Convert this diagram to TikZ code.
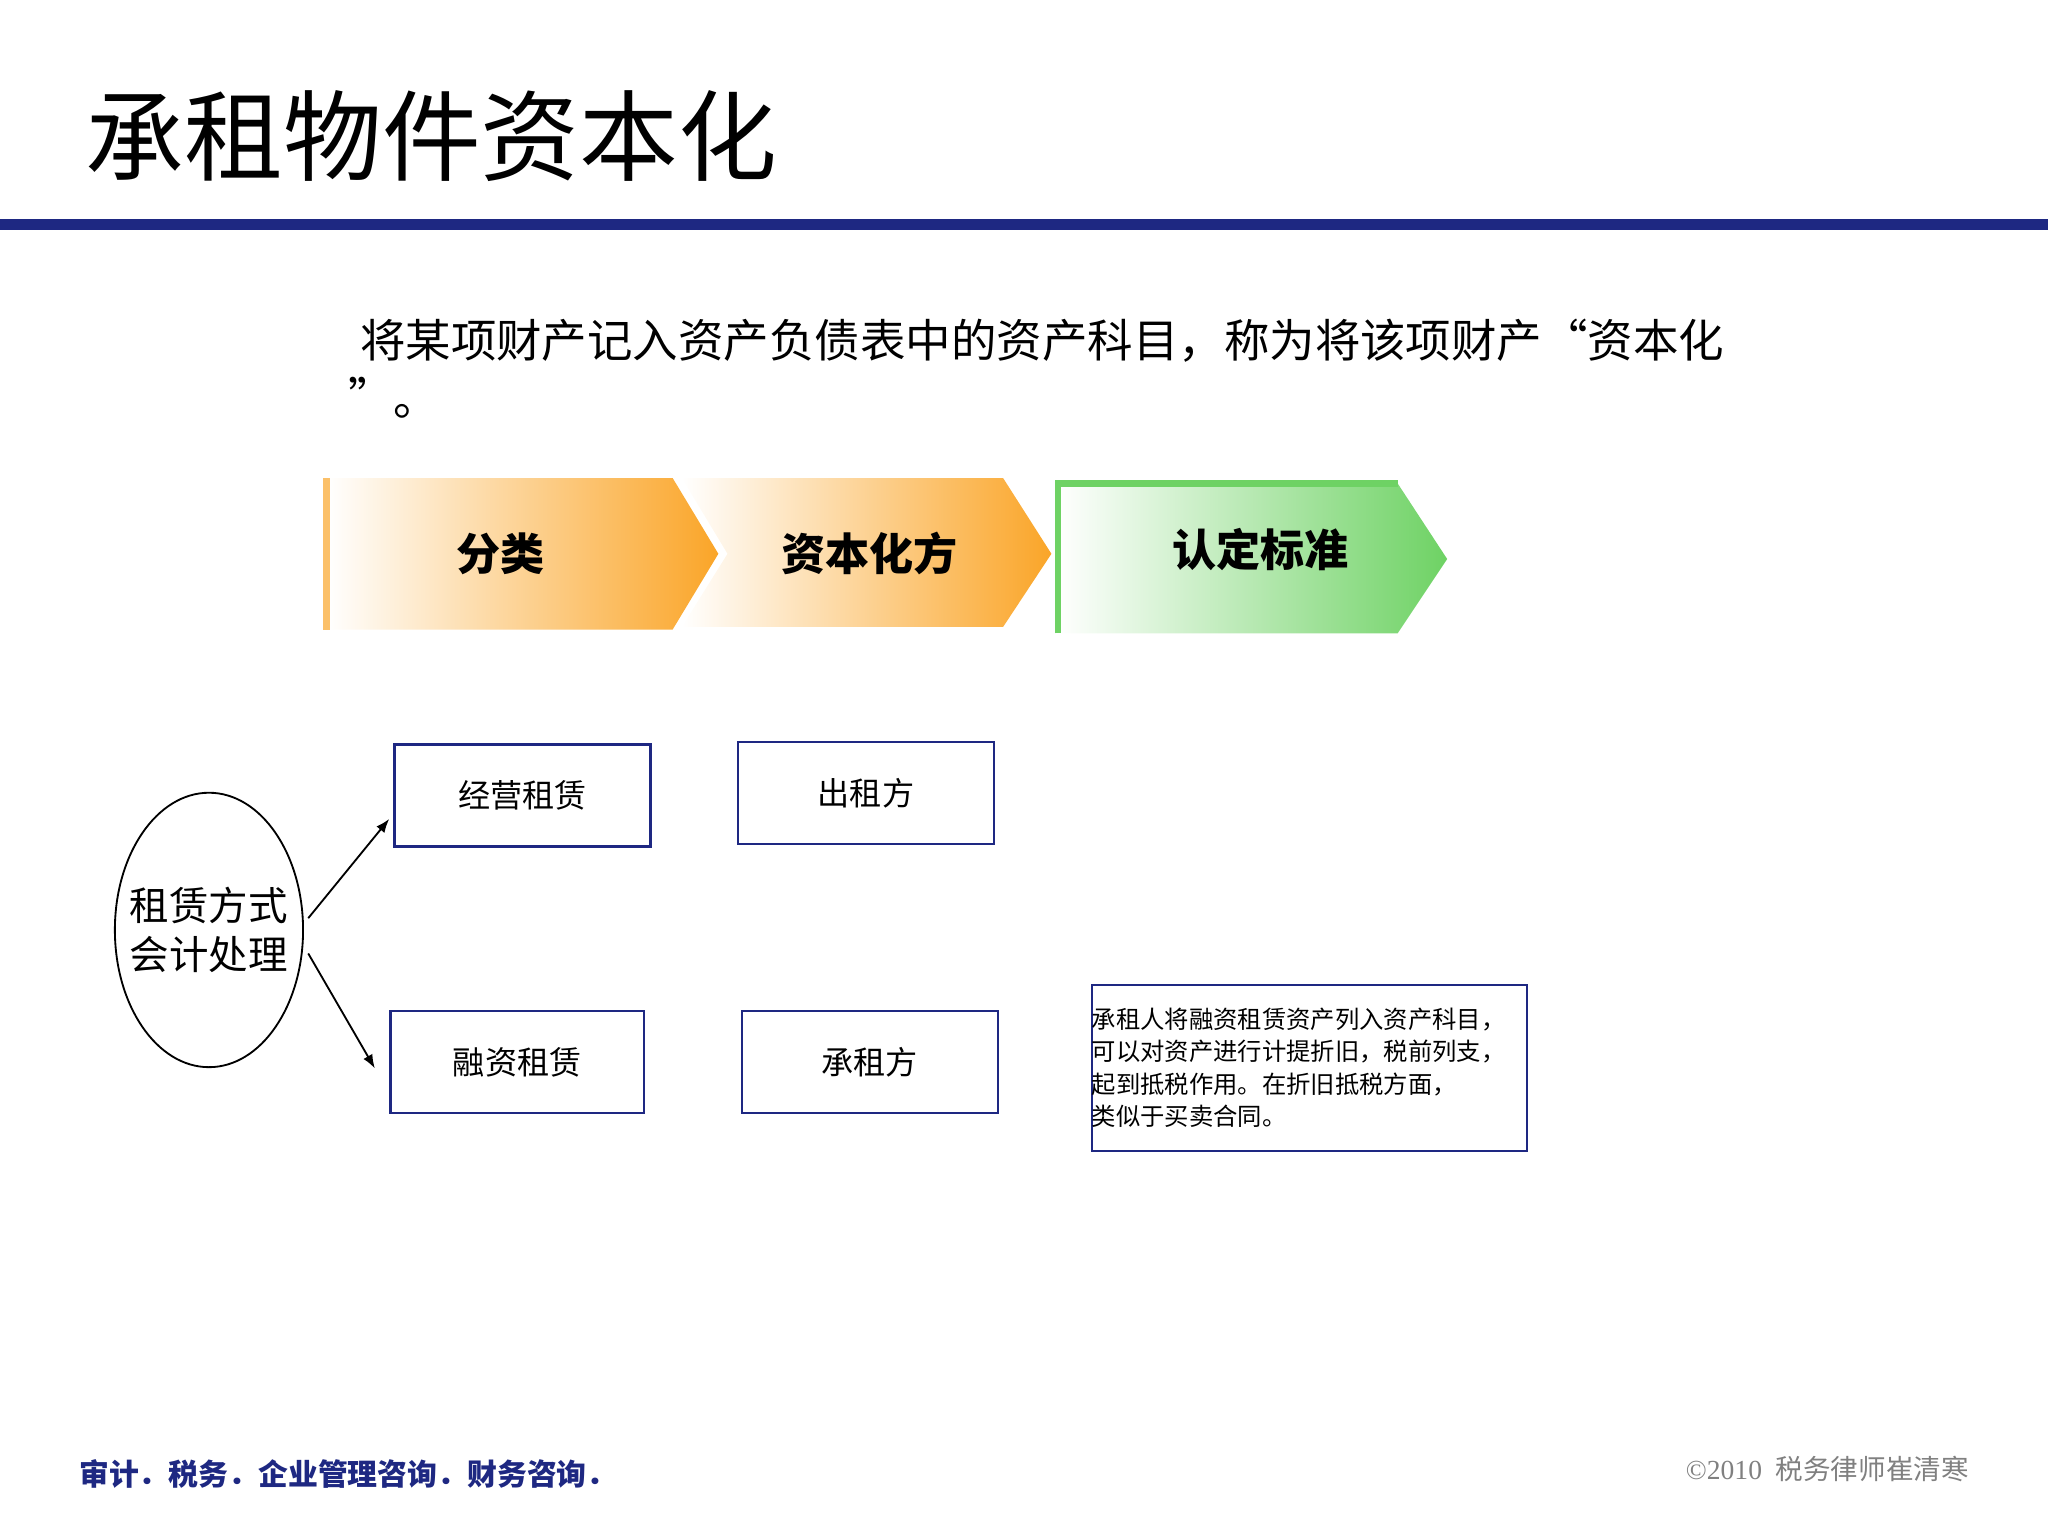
\documentclass[tikz,border=0pt]{standalone}
\usepackage{fontspec}
\setmainfont{Liberation Serif}
\newfontfamily\cjk{Noto Sans CJK SC}
\usetikzlibrary{shapes.geometric,arrows.meta}
\definecolor{navy}{RGB}{30,40,130}
\definecolor{org}{RGB}{250,165,40}
\definecolor{grn}{RGB}{110,210,100}
\tikzset{box/.style={draw=navy,line width=0.5pt,inner sep=0pt,font=\cjk\fontsize{7}{8}\selectfont},
 arr/.style={-{Latex[length=3pt]},line width=0.4pt}}
\begin{document}
\begin{tikzpicture}[x=0.01cm,y=-0.01cm]
\useasboundingbox (0,0) rectangle (1568,1176);
\node[anchor=base west,inner sep=0] (title) at (65,133) {\cjk\fontsize{21.5}{24}\selectfont 承租物件资本化};
\fill[navy] (0,168) rectangle (1568,176);
\node[anchor=base west,inner sep=0] (s1) at (275,274) {\cjk\fontsize{9.9}{11}\selectfont 将某项财产记入资产负债表中的资产科目，称为将该项财产“资本化};
\node[anchor=base west,inner sep=0] (s2) at (266,318) {\cjk\fontsize{9.9}{11}\selectfont ”。};
% chevrons
\shade[left color=white,right color=org] (250,366) -- (515,366) -- (550,424) -- (515,482) -- (250,482) -- cycle;
\draw[org!70,line width=1.5pt] (250,482) -- (250,366);
\shade[left color=white,right color=org] (522,366) -- (768,366) -- (805,424) -- (768,480) -- (522,480) -- (557,424) -- cycle;
\shade[left color=white,right color=grn] (810,370) -- (1070,370) -- (1108,428) -- (1070,485) -- (810,485) -- cycle;
\draw[grn,line width=1.5pt] (810,485) -- (810,370) -- (1070,370);
\node (c1) at (383,424) {\cjk\bfseries\fontsize{9.6}{11}\selectfont 分类};
\node (c2) at (666,424) {\cjk\bfseries\fontsize{9.6}{11}\selectfont 资本化方};
\node (c3) at (965,421) {\cjk\bfseries\fontsize{9.6}{11}\selectfont 认定标准};
% ellipse
\draw (160,712) ellipse [x radius=0.72cm, y radius=1.05cm];
\node[align=center,font=\cjk\fontsize{8.6}{10.6}\selectfont,inner sep=0] (e) at (160,712) {租赁方式\\会计处理};
\node[box,minimum width=1.96cm,minimum height=0.78cm] (b1) at (400,609) {经营租赁};
\node[box,minimum width=1.96cm,minimum height=0.78cm] (b2) at (663,607) {出租方};
\node[box,minimum width=1.94cm,minimum height=0.78cm] (b3) at (396,813) {融资租赁};
\node[box,minimum width=1.96cm,minimum height=0.78cm] (b4) at (666,813) {承租方};
\node[box,minimum height=1.27cm,align=left,text width=3.33cm,font=\cjk\fontsize{5.3}{7}\selectfont] (b5) at (1002.5,817.5) {承租人将融资租赁资产列入资产科目，\\可以对资产进行计提折旧，税前列支，\\起到抵税作用。在折旧抵税方面，\\类似于买卖合同。};
\coordinate (a1) at (236,703);
\coordinate (a2) at (236,730);
\draw[arr] (a1) -- (298,627);
\draw[arr] (a2) -- (287,818);
\node[anchor=base west,inner sep=0,text=navy] (f1) at (60,1137) {\cjk\bfseries\fontsize{6.5}{8}\selectfont 审计．税务．企业管理咨询．财务咨询．};
\node[anchor=base east,inner sep=0,text=gray] (f2) at (1508,1133) {\fontsize{6}{8}\selectfont ©2010\ \ \cjk 税务律师崔清寒};
\end{tikzpicture}
\end{document}
